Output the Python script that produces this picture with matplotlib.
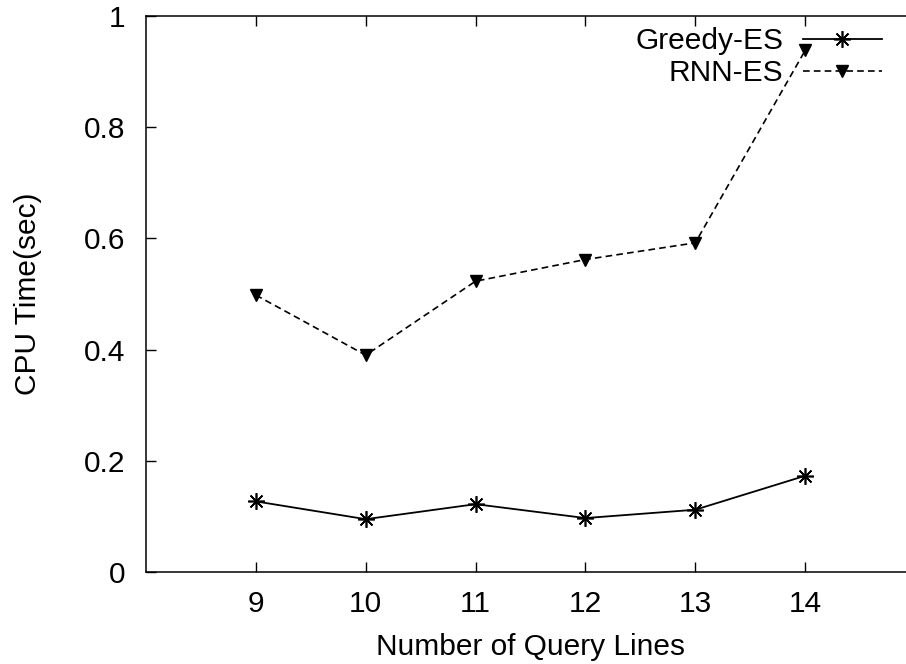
import matplotlib
matplotlib.use("Agg")
import matplotlib.pyplot as plt

plt.rcParams["font.family"] = ["Liberation Sans", "DejaVu Sans"]

# ── Data ──────────────────────────────────────────────────────────────────────
query_lines = [9, 10, 11, 12, 13, 14]
greedy_es   = [0.127, 0.095, 0.122, 0.097, 0.112, 0.173]
rnn_es      = [0.498, 0.390, 0.523, 0.562, 0.592, 0.938]

W, H = 906, 664
FS = 21.5
fig = plt.figure(figsize=(W / 100, H / 100), dpi=100)
# right edge of the frame falls outside the picture, as in the original
ax = fig.add_axes([146 / W, (H - 572) / H, (915 - 146) / W, (572 - 16) / H])

ax.plot(query_lines, greedy_es, color="black", lw=1.3,
        marker=(8, 2, 0), markersize=12, markeredgewidth=1.2, label="Greedy-ES")
ax.plot(query_lines, rnn_es, color="black", lw=1.2, linestyle=(0, (4, 2.5)),
        marker="v", markersize=9, label="RNN-ES")

ax.set_xlim(8, 15)
ax.set_ylim(0, 1)
ax.set_xticks(query_lines)
ax.set_yticks([0, 0.2, 0.4, 0.6, 0.8, 1])
ax.set_yticklabels(["0", "0.2", "0.4", "0.6", "0.8", "1"])
ax.tick_params(direction="in", length=7, width=1, top=True, right=False,
               labelsize=FS, pad=13)
ax.tick_params(axis="y", pad=15)
ax.spines["right"].set_visible(False)
for spine in ax.spines.values():
    spine.set_linewidth(1.1)

ax.set_xlabel("Number of Query Lines", fontsize=FS, labelpad=11)
ax.set_ylabel("CPU Time(sec)", fontsize=FS, labelpad=30)

ax.legend(loc="upper right", bbox_to_anchor=(882 / W, 1 - 27 / H),
          bbox_transform=fig.transFigure, frameon=False, markerfirst=False,
          fontsize=FS, handlelength=2.65, handletextpad=0.65, labelspacing=0.15,
          borderpad=0, borderaxespad=0)

fig.savefig("out.png", dpi=100)
